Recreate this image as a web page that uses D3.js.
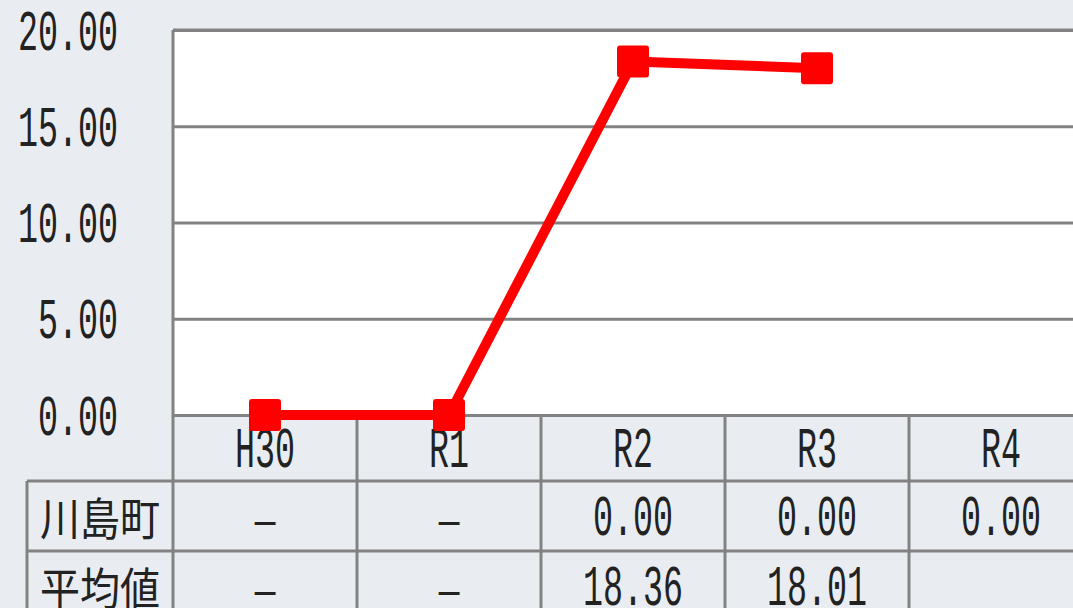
<!DOCTYPE html>
<html>
<head>
<meta charset="utf-8">
<script src="https://cdn.jsdelivr.net/npm/d3@7/dist/d3.min.js"></script>
<style>
  body { margin: 0; background: #e9edf2; }
  svg { display: block; }
  text { font-family: "Noto Sans CJK JP", sans-serif; fill: #222; }
  text.mono { font-family: "Liberation Mono", "Noto Sans CJK JP", monospace; }
</style>
</head>
<body>
<div class="chart"></div>
<script>
// data
const years = ['H30', 'R1', 'R2', 'R3', 'R4'];
const lineValues = [0, 0, 18.36, 18.01, null];
const rowLabels = ['川島町', '平均値'];
const kawashimaRow = ['–', '–', '0.00', '0.00', '0.00'];
const averageRow = ['–', '–', '18.36', '18.01', ''];
const yTicks = [0, 5, 10, 15, 20];

const w = 1073;
const h = 608;
const plotLeft = 173;
const plotTop = 30;
const plotH = 385;
const bandW = 184;
const labelLeft = 27;
const grid = '#828282';

const svg = d3.select('.chart')
  .append('svg')
  .attr('width', w)
  .attr('height', h);

const xScale = d3.scaleBand()
  .domain(years)
  .range([plotLeft, plotLeft + bandW * years.length])
  .padding(0);

const yScale = d3.scaleLinear()
  .domain([0, 20])
  .range([plotTop + plotH, plotTop]);

const plotRight = xScale.range()[1];
const tableTop = yScale(0);

// condensed half-width look: ascii = 20px, wide chars = 40px
function fit(sel) {
  sel.each(function () {
    const s = this.textContent;
    if (!s || s === '–') return;
    let len = 0;
    let ascii = true;
    for (const c of s) {
      const a = c.charCodeAt(0) < 256;
      len += a ? 20 : 40;
      if (!a) ascii = false;
    }
    const t = d3.select(this)
      .attr('textLength', len)
      .attr('lengthAdjust', 'spacingAndGlyphs');
    if (ascii) {
      t.classed('mono', true)
        .style('font-size', '57px')
        .attr('dy', '0.07em');
    }
  });
}

// plot background
svg.append('rect')
  .attr('x', plotLeft)
  .attr('y', plotTop)
  .attr('width', plotRight - plotLeft)
  .attr('height', plotH)
  .attr('fill', '#fff');

// y axis with gridlines
const yAxis = d3.axisLeft(yScale)
  .tickValues(yTicks)
  .tickSize(-(plotRight - plotLeft))
  .tickPadding(0)
  .tickFormat(d3.format('.2f'));

const yg = svg.append('g')
  .attr('transform', `translate(${plotLeft},0)`)
  .call(yAxis);
yg.select('.domain').remove();
yg.selectAll('.tick line')
  .attr('stroke', grid)
  .attr('stroke-width', 3);
yg.selectAll('.tick text')
  .attr('x', -55)
  .attr('dominant-baseline', 'central')
  .attr('text-anchor', 'end')
  .attr('fill', '#222')
  .call(fit);
yg.attr('font-family', null);

// table lines
const rowsY = [tableTop, tableTop + 66, tableTop + 66 + 70, tableTop + 66 + 140];
const lines = svg.append('g')
  .attr('stroke', grid)
  .attr('stroke-width', 3);

lines.append('line')
  .attr('x1', plotLeft).attr('x2', plotLeft)
  .attr('y1', plotTop).attr('y2', h);
lines.append('line')
  .attr('x1', plotLeft).attr('x2', plotRight)
  .attr('y1', plotTop).attr('y2', plotTop);
lines.append('line')
  .attr('x1', labelLeft).attr('x2', labelLeft)
  .attr('y1', rowsY[1]).attr('y2', h);

lines.selectAll('.hrow')
  .data([rowsY[1], rowsY[2]])
  .enter()
  .append('line')
  .attr('x1', labelLeft).attr('x2', plotRight)
  .attr('y1', (d) => d).attr('y2', (d) => d);

lines.selectAll('.vcol')
  .data(years.slice(1))
  .enter()
  .append('line')
  .attr('x1', (d) => xScale(d)).attr('x2', (d) => xScale(d))
  .attr('y1', tableTop).attr('y2', h);

// header labels
svg.append('g')
  .selectAll('text')
  .data(years)
  .enter()
  .append('text')
  .attr('x', (d) => xScale(d) + bandW / 2)
  .attr('y', (rowsY[0] + rowsY[1]) / 2)
  .attr('text-anchor', 'middle')
  .attr('dominant-baseline', 'central')
  .text((d) => d)
  .call(fit);

// data rows
const tableRows = [kawashimaRow, averageRow];
tableRows.forEach((row, r) => {
  const cy = (rowsY[r + 1] + rowsY[r + 2]) / 2;
  const g = svg.append('g');
  g.append('text')
    .attr('x', (labelLeft + plotLeft) / 2)
    .attr('y', cy)
    .attr('text-anchor', 'middle')
    .attr('dominant-baseline', 'central')
    .style('font-size', '45px')
    .text(rowLabels[r])
    .call(fit);
  g.selectAll('.cell')
    .data(row)
    .enter()
    .append('text')
    .attr('x', (d, i) => xScale(years[i]) + bandW / 2)
    .attr('y', cy)
    .attr('text-anchor', 'middle')
    .attr('dominant-baseline', 'central')
    .style('font-size', '47px')
    .text((d) => d)
    .call(fit);
});

// red line with square markers
const pts = years
  .map((d, i) => ({ year: d, value: lineValues[i] }))
  .filter((d) => d.value !== null);

const line = d3.line()
  .x((d) => xScale(d.year) + bandW / 2)
  .y((d) => yScale(d.value));

svg.append('path')
  .datum(pts)
  .attr('d', line)
  .attr('fill', 'none')
  .attr('stroke', '#ff0000')
  .attr('stroke-width', 10)
  .attr('stroke-linejoin', 'round');

svg.selectAll('.marker')
  .data(pts)
  .enter()
  .append('rect')
  .attr('x', (d) => xScale(d.year) + bandW / 2 - 16)
  .attr('y', (d) => yScale(d.value) - 16)
  .attr('width', 32)
  .attr('height', 32)
  .attr('rx', 3)
  .attr('fill', '#ff0000');
</script>
</body>
</html>
